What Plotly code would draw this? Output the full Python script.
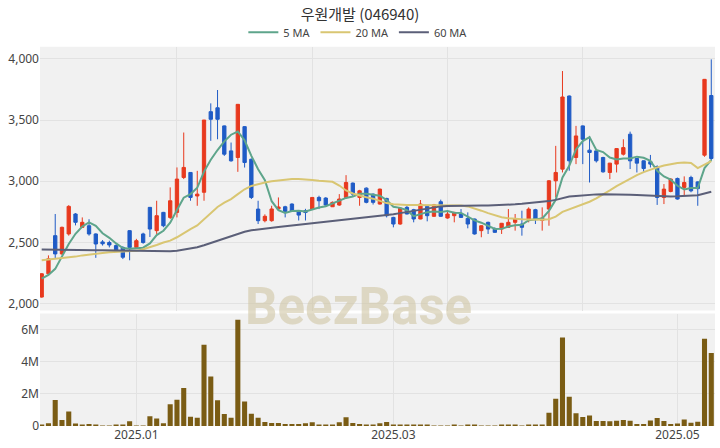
import plotly.graph_objects as go
import pandas as pd

dates = (
    ["2024-12-%02d" % d for d in [10, 11, 12, 13, 16, 17, 18, 19, 20, 23, 24, 26, 27, 30]]
    + ["2025-01-%02d" % d for d in [2, 3, 6, 7, 8, 9, 10, 13, 14, 15, 16, 17, 20, 21, 22, 23, 24, 31]]
    + ["2025-02-%02d" % d for d in [3, 4, 5, 6, 7, 10, 11, 12, 13, 14, 17, 18, 19, 20, 21, 24, 25, 26, 27, 28]]
    + ["2025-03-%02d" % d for d in [4, 5, 6, 7, 10, 11, 12, 13, 14, 17, 18, 19, 20, 21, 24, 25, 26, 27, 28, 31]]
    + ["2025-04-%02d" % d for d in [1, 2, 3, 4, 7, 8, 9, 10, 11, 14, 15, 16, 17, 18, 21, 22, 23, 24, 25, 28, 29, 30]]
    + ["2025-05-%02d" % d for d in [2, 7, 8, 9, 12, 13]]
)

opens = [2055, 2245, 2556, 2407, 2570, 2733, 2624, 2637, 2570, 2505,
         2500, 2475, 2460, 2597, 2460, 2570, 2787, 2597, 2746, 2705,
         2746, 3031, 3072, 2880, 2910, 3568, 3600, 3452, 3248, 3194,
         3446, 3180, 2773, 2678, 2678, 2775, 2792, 2814, 2760, 2760,
         2773, 2868, 2863, 2792, 2806, 2868, 2985, 2868, 2944, 2895,
         2814, 2860, 2705, 2651, 2787, 2768, 2692, 2795, 2714, 2833,
         2700, 2719, 2733, 2697, 2692, 2597, 2665, 2610, 2610, 2624,
         2665, 2651, 2692, 2768, 2680, 2773, 3004, 3099, 3696, 3194,
         3452, 3254, 3248, 3194, 3072, 3140, 3221, 3384, 3186, 3167,
         3160, 3120, 2868, 2917, 3023, 2950, 3031, 2995, 3213, 3700]
highs = [2250, 2395, 2733, 2630, 2805, 2740, 2705, 2690, 2575, 2520,
         2515, 2485, 2470, 2600, 2530, 2580, 2790, 2841, 2750, 2950,
         3113, 3398, 3075, 3085, 3500, 3636, 3745, 3455, 3316, 3630,
         3450, 3185, 2841, 2730, 2800, 2868, 2800, 2820, 2765, 2775,
         2870, 2882, 2870, 2835, 2895, 3050, 2990, 2930, 2950, 2900,
         2940, 2865, 2710, 2785, 2806, 2775, 2847, 2800, 2815, 2850,
         2754, 2750, 2773, 2746, 2695, 2640, 2670, 2624, 2660, 2773,
         2733, 2760, 2787, 2775, 2787, 3010, 3289, 3900, 3700, 3452,
         3455, 3370, 3250, 3200, 3150, 3270, 3343, 3405, 3190, 3170,
         3215, 3130, 2977, 3025, 3030, 3040, 3045, 3000, 3835, 3995]
lows = [2050, 2240, 2366, 2400, 2556, 2640, 2620, 2556, 2375, 2475,
        2460, 2430, 2365, 2355, 2450, 2490, 2545, 2570, 2625, 2692,
        2705, 3018, 2841, 2800, 2841, 3330, 3343, 3207, 3160, 3077,
        3112, 2855, 2651, 2665, 2670, 2760, 2705, 2750, 2680, 2680,
        2770, 2773, 2800, 2790, 2800, 2860, 2880, 2800, 2820, 2810,
        2810, 2705, 2624, 2645, 2730, 2665, 2690, 2673, 2710, 2710,
        2695, 2665, 2700, 2616, 2565, 2543, 2570, 2580, 2570, 2620,
        2597, 2556, 2665, 2651, 2597, 2637, 2868, 3072, 3086, 3140,
        3140, 2990, 3153, 3070, 3018, 3072, 3210, 3100, 3072, 3077,
        3113, 2807, 2814, 2910, 2850, 2882, 2910, 2800, 3200, 3170]
closes = [2245, 2367, 2407, 2624, 2795, 2665, 2665, 2570, 2488, 2490,
          2480, 2435, 2380, 2460, 2515, 2500, 2610, 2719, 2637, 2841,
          3018, 3113, 2868, 2895, 3500, 3506, 3506, 3221, 3167, 3628,
          3153, 2868, 2678, 2714, 2774, 2790, 2754, 2754, 2724, 2745,
          2868, 2841, 2806, 2828, 2855, 2990, 2895, 2922, 2828, 2828,
          2936, 2719, 2651, 2781, 2733, 2692, 2814, 2719, 2808, 2714,
          2733, 2746, 2705, 2651, 2570, 2637, 2610, 2583, 2657, 2665,
          2692, 2624, 2773, 2692, 2700, 3004, 3072, 3688, 3167, 3370,
          3343, 3235, 3167, 3077, 3148, 3267, 3275, 3167, 3148, 3104,
          3140, 2868, 2936, 3018, 2855, 2990, 2922, 2940, 3832, 3186]
volumes_m = [0.08, 0.17, 1.62, 0.37, 0.90, 0.15, 0.05, 0.12, 0.10, 0.02,
             0.02, 0.08, 0.06, 0.30, 0.02, 0.02, 0.60, 0.47, 0.17, 1.36,
             1.63, 2.36, 0.58, 0.52, 5.06, 3.08, 1.61, 0.74, 0.52, 6.62,
             1.53, 0.76, 0.52, 0.25, 0.19, 0.19, 0.12, 0.12, 0.12, 0.17,
             0.23, 0.10, 0.10, 0.08, 0.23, 0.54, 0.19, 0.12, 0.06, 0.10,
             0.17, 0.25, 0.08, 0.04, 0.04, 0.08, 0.10, 0.04, 0.02, 0.03,
             0.03, 0.04, 0.02, 0.04, 0.04, 0.02, 0.02, 0.01, 0.08, 0.06,
             0.06, 0.03, 0.10, 0.10, 0.08, 0.83, 1.69, 5.50, 1.82, 0.79,
             0.56, 0.66, 0.31, 0.31, 0.29, 0.33, 0.37, 0.33, 0.12, 0.12,
             0.35, 0.50, 0.31, 0.12, 0.15, 0.41, 0.21, 0.27, 5.43, 4.55]
volumes = [v * 1e6 for v in volumes_m]

ma5_head = [2205, 2235, 2285, 2385]
ma20 = [2355, 2360, 2365, 2370, 2377, 2385, 2395, 2403, 2410, 2415,
        2420, 2423, 2425, 2428, 2432, 2445, 2461, 2480, 2500, 2515,
        2543, 2580, 2610, 2640, 2690, 2745, 2790, 2825, 2855, 2895,
        2935, 2962, 2978, 2990, 3000, 3008, 3015, 3018, 3018, 3016,
        3010, 3004, 3000, 2996, 2965, 2925, 2900, 2882, 2870, 2858,
        2840, 2822, 2812, 2806, 2806, 2806, 2806, 2806, 2806, 2805,
        2804, 2803, 2802, 2795, 2780, 2760, 2740, 2722, 2707, 2698,
        2692, 2690, 2688, 2686, 2686, 2690, 2712, 2750, 2770, 2788,
        2810, 2833, 2860, 2890, 2925, 2960, 2992, 3022, 3050, 3075,
        3095, 3113, 3128, 3140, 3150, 3153, 3150, 3108, 3140, 3165]
ma60 = [2443, 2443, 2442, 2442, 2441, 2440, 2439, 2438, 2437, 2436,
        2435, 2434, 2432, 2430, 2428, 2426, 2425, 2425, 2426, 2428,
        2432, 2440, 2450, 2461, 2478, 2497, 2515, 2535, 2555, 2572,
        2588, 2600, 2608, 2614, 2620, 2626, 2632, 2638, 2644, 2650,
        2655, 2660, 2666, 2672, 2678, 2684, 2690, 2696, 2702, 2708,
        2715, 2722, 2730, 2740, 2750, 2760, 2770, 2780, 2790, 2795,
        2798, 2800, 2801, 2802, 2802, 2802, 2802, 2803, 2805, 2808,
        2812, 2816, 2820, 2825, 2830, 2838, 2848, 2860, 2875, 2880,
        2886, 2890, 2893, 2895, 2895, 2894, 2892, 2890, 2887, 2884,
        2880, 2877, 2876, 2876, 2877, 2879, 2882, 2886, 2900, 2915]

ma5 = ma5_head + list(pd.Series(closes).rolling(5).mean().iloc[4:])

price_ticks = [2000, 2500, 3000, 3500, 4000]
vol_ticks = [0, 2e6, 4e6, 6e6]
vol_ticktext = ["0", "2M", "4M", "6M"]
x_label_dates = ["2025-01-02", "2025-03-04", "2025-05-02"]
x_label_text = ["2025.01", "2025.03", "2025.05"]
x_grid_dates = [dates[20], dates[40], dates[60], dates[80]]

RED = "#e8391e"
BLUE = "#1f5bc6"
VOL = "#7a5c14"
FONT = "Noto Sans, Noto Sans CJK KR, sans-serif"

fig = go.Figure()
fig.add_trace(go.Candlestick(
    x=dates, open=opens, high=highs, low=lows, close=closes,
    increasing=dict(line=dict(color=RED, width=1), fillcolor=RED),
    decreasing=dict(line=dict(color=BLUE, width=1), fillcolor=BLUE),
    whiskerwidth=0, showlegend=False, xaxis="x", yaxis="y", hoverinfo="skip"))
fig.add_trace(go.Scatter(x=dates, y=ma5, mode="lines", name="5 MA",
                         line=dict(color="#5ea58b", width=2), xaxis="x", yaxis="y"))
fig.add_trace(go.Scatter(x=dates, y=ma20, mode="lines", name="20 MA",
                         line=dict(color="#d9c672", width=2), xaxis="x", yaxis="y"))
fig.add_trace(go.Scatter(x=dates, y=ma60, mode="lines", name="60 MA",
                         line=dict(color="#5b5f78", width=2), xaxis="x", yaxis="y"))
fig.add_trace(go.Bar(x=dates, y=volumes, marker=dict(color=VOL, line=dict(width=0)),
                     showlegend=False, xaxis="x2", yaxis="y2"))

axis_common = dict(showline=False, zeroline=False, gridcolor="#e2e2e2", gridwidth=1,
                   automargin=False,
                   tickfont=dict(family=FONT, size=12, color="#444"))

fig.update_layout(
    width=720, height=448,
    margin=dict(l=40, r=5, t=45, b=22),
    paper_bgcolor="white", plot_bgcolor="#f1f1f1",
    font=dict(family=FONT, color="#444"),
    title=dict(text="우원개발 (046940)", x=0.5, xanchor="center", y=0.968, yanchor="middle",
               font=dict(family="Noto Sans CJK KR", size=15, color="#333")),
    legend=dict(orientation="h", x=0.497, xanchor="center", xref="container",
                y=0.928, yanchor="middle", yref="container",
                font=dict(family=FONT, size=11, color="#444"),
                bgcolor="rgba(0,0,0,0)", itemwidth=30, tracegroupgap=0),
    bargap=0.25,
    showlegend=True,
    xaxis=dict(type="category", domain=[0, 1], anchor="y", range=[-0.25, 99.55],
               rangeslider=dict(visible=False), tickmode="array", tickvals=x_grid_dates,
               showticklabels=False, ticks="", **axis_common),
    yaxis=dict(domain=[0.3045, 1], anchor="x", range=[1945, 4098], tickmode="array",
               tickvals=price_ticks, tickformat=",", ticks="", **axis_common),
    xaxis2=dict(type="category", domain=[0, 1], anchor="y2", matches="x", range=[-0.25, 99.55],
                tickmode="array", tickvals=x_label_dates, ticktext=x_label_text, ticks="",
                **axis_common),
    yaxis2=dict(domain=[0, 0.2966], anchor="x2", range=[0, 7.0e6], tickmode="array",
                tickvals=vol_ticks, ticktext=vol_ticktext, ticks="", **axis_common),
    annotations=[dict(text="<b>BeezBase</b>", x=0.472, y=0.315, xref="paper", yref="paper",
                      xanchor="center", yanchor="middle", showarrow=False,
                      font=dict(family="Roboto, Noto Sans, sans-serif", size=51,
                                color="rgba(208,198,165,0.6)"))],
)

fig.write_html("out.html", config={"displayModeBar": False},
               post_script="document.body.style.margin='0';")
